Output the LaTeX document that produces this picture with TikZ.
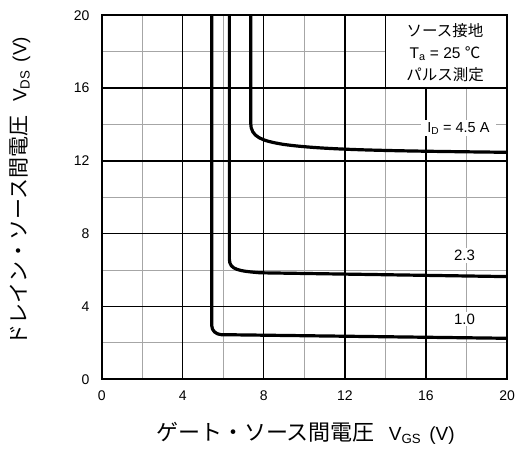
\documentclass[tikz,border=0pt]{standalone}
\usepackage{fontspec}
\setmainfont{Liberation Sans}
\newfontfamily\jp{Noto Sans CJK JP}
\usetikzlibrary{positioning}

\begin{document}
\begin{tikzpicture}[x=20.27pt, y=18.2pt,
	minor/.style={gray!70, line width=0.8pt},
	major/.style={black, line width=1.3pt},
	curve/.style={black, line width=3.2pt, line join=round},
	tick/.style={inner sep=0pt, font=\fontsize{14}{16}\selectfont},
	lbl/.style={fill=white, inner xsep=4pt, inner ysep=2pt, font=\fontsize{15}{17}\selectfont},
	title/.style={inner sep=0pt, font=\fontsize{19}{22}\selectfont}]
	\useasboundingbox (-5.017,-3.885) rectangle (20.64,20.84);
	% grid
	\foreach \v in {2,6,10,14,18} {
		\draw[minor] (\v,0) -- (\v,20);
		\draw[minor] (0,\v) -- (20,\v);
	}
	\foreach \v in {4,8,12,16} {
		\draw[major] (\v,0) -- (\v,20);
		\draw[major] (0,\v) -- (20,\v);
	}
	% conditions
	\fill[white] (14,16.05) rectangle (20,20);
	\draw[black, line width=0.8pt] (14,20) -- (14,16);
	\node[align=center, inner sep=0pt, font=\fontsize{15.5}{22}\selectfont] (cond) at (16.94,17.95)
		{{\jp ソース接地}\\T\textsubscript{a} = 25 {\jp ℃}\\{\jp パルス測定}};
	% labels
	\node[lbl, inner xsep=6pt, font=\fontsize{14.5}{17}\selectfont] (i45) at (17.6,13.8) {I\textsubscript{D} = 4.5 A};
	\node[lbl] (i23) at (17.9,6.8) {2.3};
	\node[lbl] (i10) at (17.9,3.3) {1.0};
	% curves
	\draw[curve] (5.43,20) -- (5.43,2.95) to[out=-90,in=178] (5.9,2.45) -- (20,2.25);
	\draw[curve] (6.3,20) -- (6.3,6.6) .. controls (6.3,6.0) and (6.8,5.95) .. (7.8,5.85) -- (20,5.64);
	\draw[curve] (7.35,20) -- (7.35,14.1) .. controls (7.35,13.3) and (7.9,13.1) .. (9,12.9)
		.. controls (11,12.6) and (14,12.55) .. (20,12.47);
	% frame
	\draw[line width=1.8pt] (0,0) rectangle (20,20);
	% ticks
	\foreach \x in {0,4,...,20}
		\node[tick, below=11pt] (xl\x) at (\x,0) {\x};
	\foreach \y in {0,4,...,20}
		\node[tick, left=12pt] (yl\y) at (0,\y) {\y};
	% axis titles
	\node[title] (xt) at (10.05,-2.95)
		{{\jp\fontsize{22}{24}\selectfont ゲート・ソース間電圧}\hspace{14pt}V\textsubscript{GS}\hspace{8pt}(V)};
	\node[title, rotate=90] (yt) at (-4.03,10.32)
		{{\jp\fontsize{21}{23}\selectfont ドレイン・ソース間電圧}\hspace{14pt}V\textsubscript{DS}\hspace{8pt}(V)};
\end{tikzpicture}
\end{document}
